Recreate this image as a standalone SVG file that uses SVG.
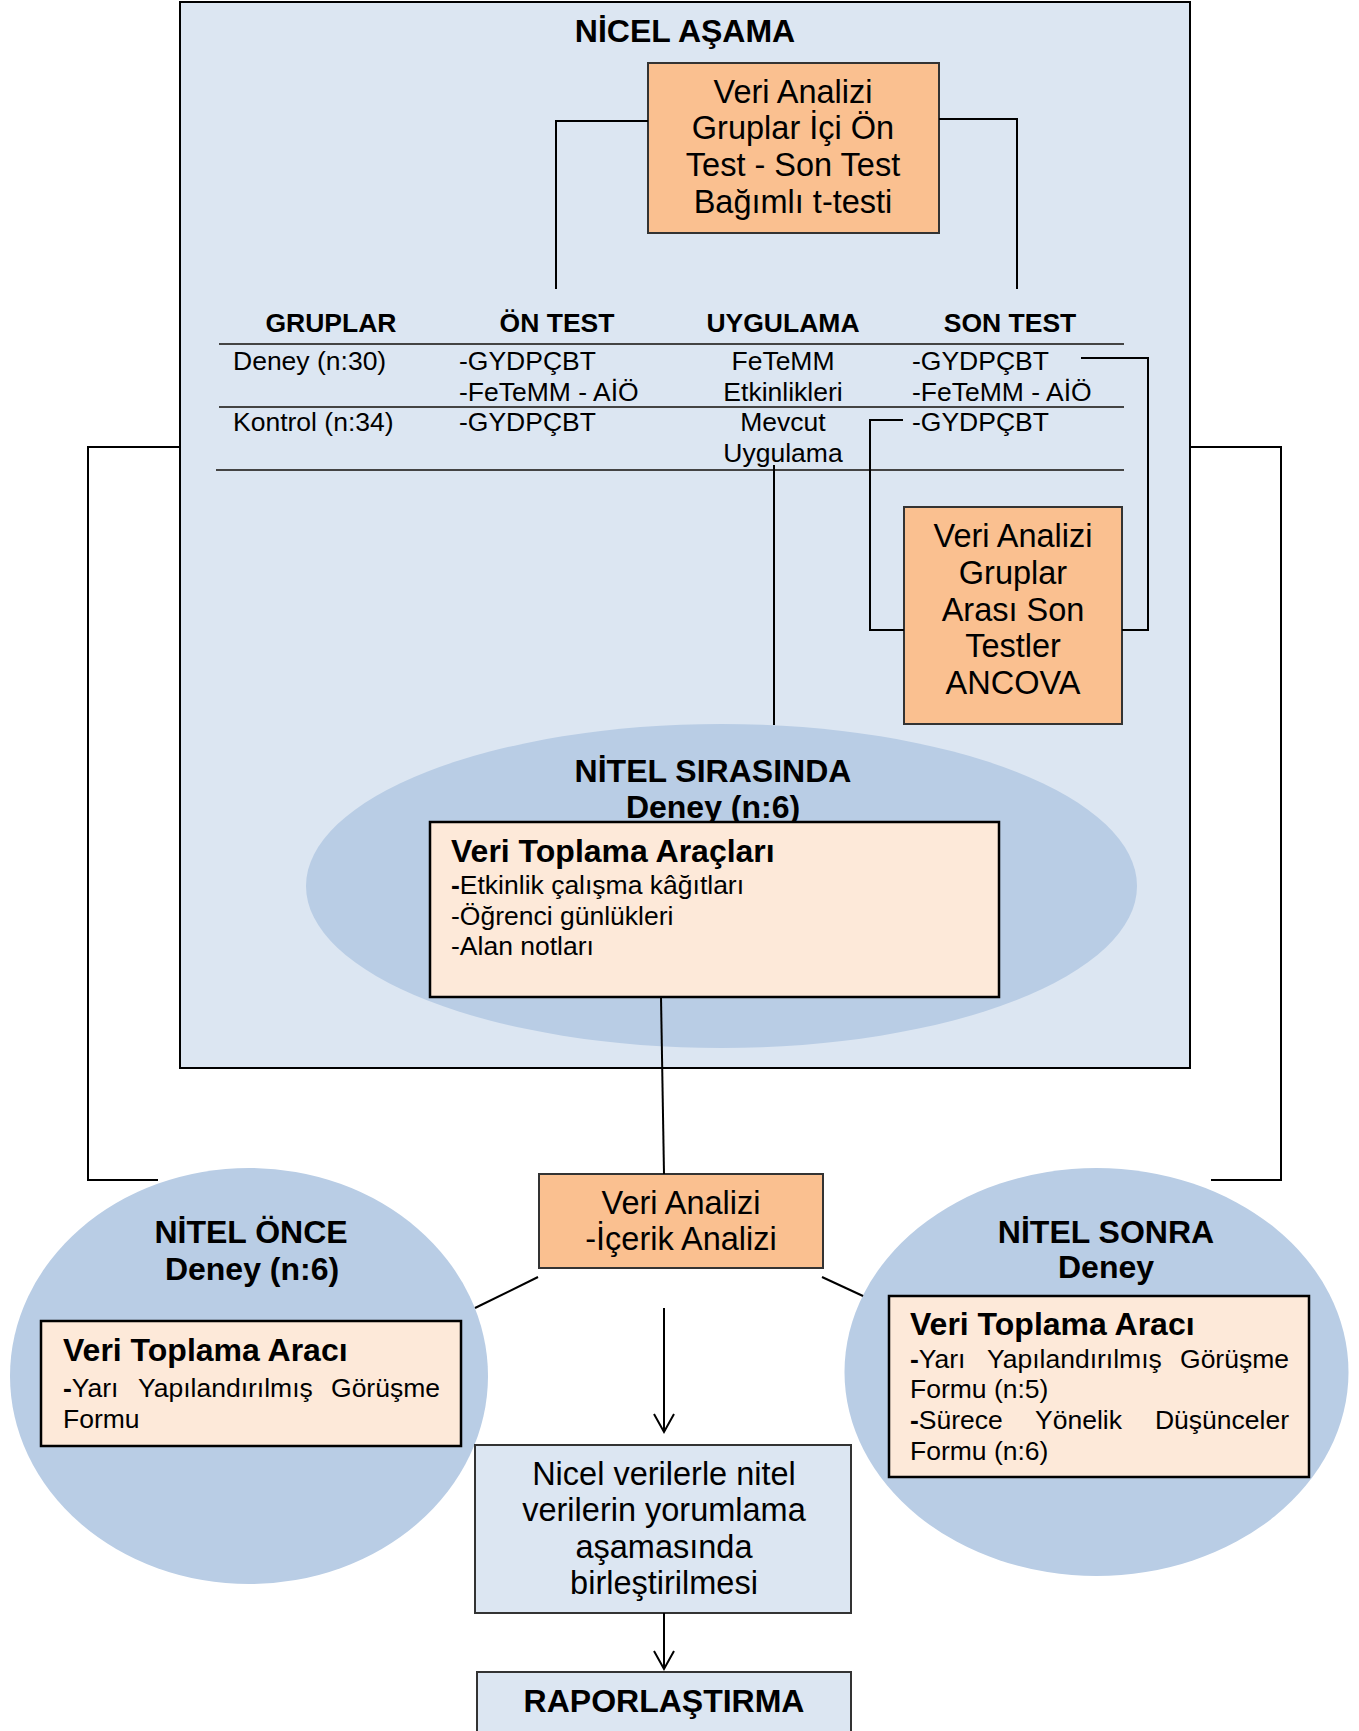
<svg xmlns="http://www.w3.org/2000/svg" width="1359" height="1731" viewBox="0 0 1359 1731">
<defs>
<style>
text{font-family:"Liberation Sans",Arial,sans-serif;fill:#000}
.b{font-weight:bold}
.t26{font-size:26.5px}
.t31{font-size:32.5px}
.h{font-size:32px;font-weight:bold}
.c{text-anchor:middle}
.e{text-anchor:end}
.line{stroke:#000;stroke-width:2;fill:none}
.orange{fill:#FAC090;stroke:#333;stroke-width:2}
.peach{fill:#FDE9D9;stroke:#000;stroke-width:2.5}
.lblue{fill:#DCE6F2;stroke:#333;stroke-width:2}
.ell{fill:#B9CDE5}
</style>
<marker id="arr" markerWidth="24" markerHeight="24" refX="20" refY="12" orient="auto" markerUnits="userSpaceOnUse" viewBox="0 0 24 24">
<path d="M2,2 L20,12 L2,22" fill="none" stroke="#000" stroke-width="2"/>
</marker>
</defs>

<g id="nicel-asama">
<rect x="180" y="2" width="1010" height="1066" fill="#DCE6F2" stroke="#000" stroke-width="2"/>
<text x="685" y="42" class="h c">NİCEL AŞAMA</text>
</g>

<g id="table">
<text x="331" y="332" class="b c t26">GRUPLAR</text>
<text x="557" y="332" class="b c t26">ÖN TEST</text>
<text x="783" y="332" class="b c t26">UYGULAMA</text>
<text x="1010" y="332" class="b c t26">SON TEST</text>
<line x1="219" y1="344" x2="1124" y2="344" stroke="#444" stroke-width="2"/>
<line x1="219" y1="407" x2="1124" y2="407" stroke="#444" stroke-width="2"/>
<line x1="216" y1="470" x2="1124" y2="470" stroke="#444" stroke-width="2"/>
<text x="233" y="370" class="t26">Deney (n:30)</text>
<text x="459" y="370" class="t26">-GYDPÇBT</text>
<text x="459" y="401" class="t26">-FeTeMM - AİÖ</text>
<text x="783" y="370" class="c t26">FeTeMM</text>
<text x="783" y="401" class="c t26">Etkinlikleri</text>
<text x="912" y="370" class="t26">-GYDPÇBT</text>
<text x="912" y="401" class="t26">-FeTeMM - AİÖ</text>
<text x="233" y="431" class="t26">Kontrol (n:34)</text>
<text x="459" y="431" class="t26">-GYDPÇBT</text>
<text x="783" y="431" class="c t26">Mevcut</text>
<text x="783" y="462" class="c t26">Uygulama</text>
<text x="912" y="431" class="t26">-GYDPÇBT</text>
</g>

<g id="veri-analizi-ici">
<rect x="648" y="63" width="291" height="170" class="orange"/>
<text x="793" y="103" class="c t31">Veri Analizi</text>
<text x="793" y="139" class="c t31">Gruplar İçi Ön</text>
<text x="793" y="176" class="c t31">Test - Son Test</text>
<text x="793" y="213" class="c t31">Bağımlı t-testi</text>
</g>

<g id="veri-analizi-arasi">
<rect x="904" y="507" width="218" height="217" class="orange"/>
<text x="1013" y="547" class="c t31">Veri Analizi</text>
<text x="1013" y="584" class="c t31">Gruplar</text>
<text x="1013" y="621" class="c t31">Arası Son</text>
<text x="1013" y="657" class="c t31">Testler</text>
<text x="1013" y="694" class="c t31">ANCOVA</text>
</g>

<g id="nitel-sirasinda">
<ellipse cx="721.5" cy="886" rx="415.5" ry="162" class="ell"/>
<text x="713" y="782" class="h c">NİTEL SIRASINDA</text>
<text x="713" y="818" class="h c">Deney (n:6)</text>
<rect x="430" y="822" width="569" height="175" class="peach"/>
<text x="451" y="862" class="h">Veri Toplama Araçları</text>
<text x="451" y="894" class="t26"><tspan class="b">-</tspan>Etkinlik çalışma kâğıtları</text>
<text x="451" y="925" class="t26">-Öğrenci günlükleri</text>
<text x="451" y="955" class="t26">-Alan notları</text>
</g>

<g id="nitel-once">
<ellipse cx="249" cy="1376" rx="239" ry="208" class="ell"/>
<text x="251" y="1243" class="h c">NİTEL ÖNCE</text>
<text x="252" y="1280" class="h c">Deney (n:6)</text>
<rect x="41" y="1321" width="420" height="125" class="peach"/>
<text x="63" y="1361" class="h">Veri Toplama Aracı</text>
<text x="63" y="1397" class="t26"><tspan class="b">-</tspan>Yarı</text>
<text x="138" y="1397" class="t26">Yapılandırılmış</text>
<text x="440" y="1397" class="e t26">Görüşme</text>
<text x="63" y="1428" class="t26">Formu</text>
</g>

<g id="nitel-sonra">
<ellipse cx="1096.5" cy="1372" rx="252" ry="204" class="ell"/>
<text x="1106" y="1243" class="h c">NİTEL SONRA</text>
<text x="1106" y="1278" class="h c">Deney</text>
<rect x="889" y="1296" width="420" height="181" class="peach"/>
<text x="910" y="1335" class="h">Veri Toplama Aracı</text>
<text x="910" y="1368" class="t26"><tspan class="b">-</tspan>Yarı</text>
<text x="987" y="1368" class="t26">Yapılandırılmış</text>
<text x="1289" y="1368" class="e t26">Görüşme</text>
<text x="910" y="1398" class="t26">Formu (n:5)</text>
<text x="910" y="1429" class="t26"><tspan class="b">-</tspan>Sürece</text>
<text x="1035" y="1429" class="t26">Yönelik</text>
<text x="1289" y="1429" class="e t26">Düşünceler</text>
<text x="910" y="1460" class="t26">Formu (n:6)</text>
</g>

<g id="icerik-analizi">
<rect x="539" y="1174" width="284" height="94" class="orange"/>
<text x="681" y="1214" class="c t31">Veri Analizi</text>
<text x="681" y="1250" class="c t31">-İçerik Analizi</text>
</g>

<g id="birlestirme">
<rect x="475" y="1445" width="376" height="168" class="lblue"/>
<text x="664" y="1485" class="c t31">Nicel verilerle nitel</text>
<text x="664" y="1521" class="c t31">verilerin yorumlama</text>
<text x="664" y="1558" class="c t31">aşamasında</text>
<text x="664" y="1594" class="c t31">birleştirilmesi</text>
</g>

<g id="raporlastirma">
<rect x="477" y="1672" width="374" height="70" class="lblue"/>
<text x="664" y="1712" class="b c" font-size="32">RAPORLAŞTIRMA</text>
</g>

<g id="connectors">
<polyline points="648,121 556,121 556,289" class="line"/>
<polyline points="939,119 1017,119 1017,289" class="line"/>
<polyline points="1081,358 1148,358 1148,630 1122,630" class="line"/>
<polyline points="903,420 870,420 870,630 904,630" class="line"/>
<line x1="774" y1="465" x2="774" y2="725" class="line"/>
<line x1="661" y1="997" x2="664" y2="1174" class="line"/>
<line x1="538" y1="1277" x2="475" y2="1308" class="line"/>
<line x1="822" y1="1277" x2="863" y2="1296" class="line"/>
<line x1="664" y1="1308" x2="664" y2="1432" class="line" marker-end="url(#arr)"/>
<line x1="664" y1="1613" x2="664" y2="1669" class="line" marker-end="url(#arr)"/>
<polyline points="180,447 88,447 88,1180 158,1180" class="line"/>
<polyline points="1190,447 1281,447 1281,1180 1211,1180" class="line"/>
</g>
</svg>
